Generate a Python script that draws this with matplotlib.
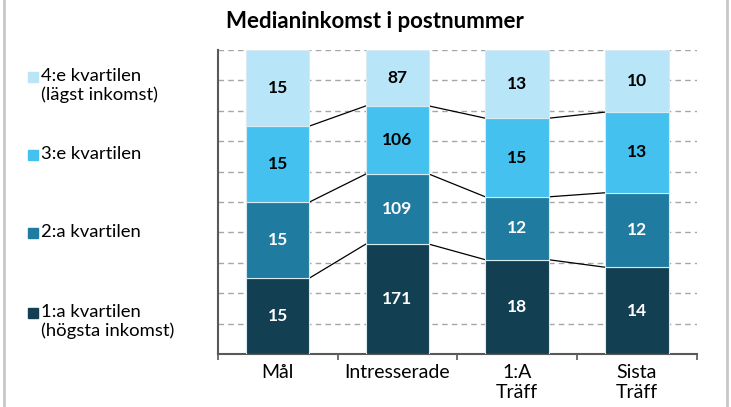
import matplotlib.pyplot as plt
import numpy as np
from matplotlib.lines import Line2D
from matplotlib.patches import Rectangle

plt.rcParams['font.family'] = ['Lato', 'DejaVu Sans']

categories = ["Mål", "Intresserade", "1:A\nTräff", "Sista\nTräff"]
series_names = ["1:a kvartilen\n(högsta inkomst)", "2:a kvartilen",
                "3:e kvartilen", "4:e kvartilen\n(lägst inkomst)"]
# bottom to top
q1 = [15, 171, 18, 14]
q2 = [15, 109, 12, 12]
q3 = [15, 106, 15, 13]
q4 = [15, 87, 13, 10]
colors = ["#133f52", "#1f7ba0", "#44c1ee", "#b9e5f8"]
text_colors = ["white", "white", "black", "black"]

vals = np.array([q1, q2, q3, q4], dtype=float)
shares = vals / vals.sum(axis=0) * 100

fig = plt.figure(figsize=(7.31, 4.07), dpi=100)
ax = fig.add_axes([0.298, 0.130, 0.655, 0.747])

x = np.arange(len(categories))
w = 0.53
bottom = np.zeros(len(categories))
for k in range(4):
    ax.bar(x, shares[k], w, bottom=bottom, color=colors[k],
           edgecolor="#d8eaf2", linewidth=0.8, zorder=3)
    for i in range(len(categories)):
        ax.text(x[i], bottom[i] + shares[k][i] / 2, "%d" % vals[k][i],
                ha="center", va="center", fontsize=12.5, fontweight="bold",
                color=text_colors[k], zorder=4)
    bottom += shares[k]
    if k < 3:
        for i in range(len(categories) - 1):
            ax.plot([x[i] + w / 2, x[i + 1] - w / 2],
                    [bottom[i], bottom[i + 1]], color="black", lw=0.9,
                    zorder=2)

ax.set_xlim(-0.5, 3.5)
ax.set_ylim(0, 100)
ax.set_yticks(np.arange(0, 101, 10))
ax.set_yticklabels([])
ax.tick_params(axis="y", length=0)
ax.yaxis.grid(True, linestyle=(0, (4, 3)), color="#a6a6a6", lw=1, zorder=0)
ax.set_axisbelow(True)
ax.set_xticks(x)
ax.set_xticklabels(categories, fontsize=14, linespacing=1.25)
ax.tick_params(axis="x", length=0, pad=7)
ax.set_xticks(np.arange(-0.5, 3.6, 1), minor=True)
ax.tick_params(axis="x", which="minor", length=4, color="#595959", width=1.2)
for s in ["top", "right"]:
    ax.spines[s].set_visible(False)
for s in ["left", "bottom"]:
    ax.spines[s].set_color("#595959")
    ax.spines[s].set_linewidth(1.5)

fig.text(0.513, 0.946, "Medianinkomst i postnummer", ha="center",
         va="center", fontsize=16, fontweight="bold")

# legend, top to bottom
leg_y = [77, 155, 233, 313]
for k, yy in zip([3, 2, 1, 0], leg_y):
    fig.add_artist(Rectangle((28 / 731, 1 - (yy + 5) / 407), 10 / 731,
                             10 / 407, color=colors[k],
                             transform=fig.transFigure))
    fig.text(41 / 731, 1 - (yy - 9) / 407, series_names[k], ha="left",
             va="top", fontsize=13.3, linespacing=1.15)

for xx in [4 / 731, 727 / 731]:
    fig.add_artist(Line2D([xx, xx], [0, 1], color="#c8c8c8", lw=2,
                          transform=fig.transFigure))

plt.savefig("out.png", dpi=100)
